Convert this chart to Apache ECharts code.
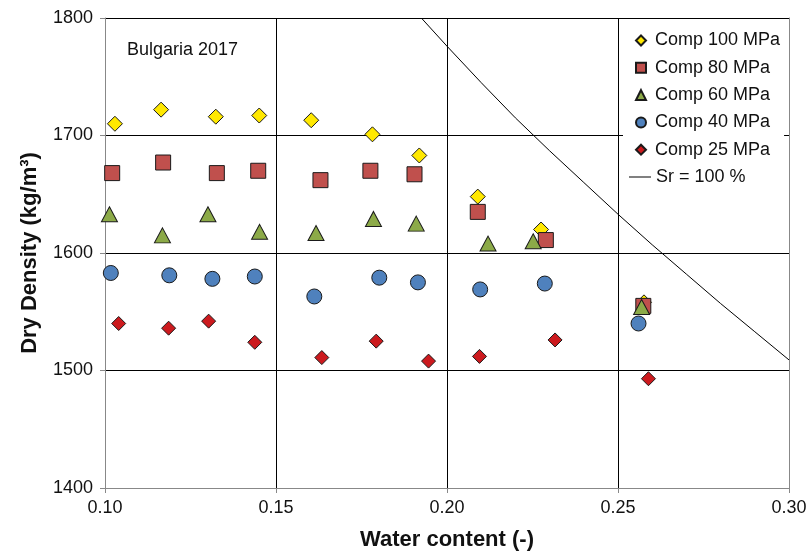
<!DOCTYPE html>
<html>
<head>
<meta charset="utf-8">
<script src="https://cdn.jsdelivr.net/npm/echarts@6/dist/echarts.min.js"></script>
<style>
  html, body { margin: 0; padding: 0; background: #fff; }
  #chart { width: 808px; height: 552px; }
</style>
</head>
<body>
<div id="chart"></div>
<script>
// Compaction tests, Bulgaria 2017: water content (-) vs dry density (kg/m3)
const comp100W = [0.1029, 0.1164, 0.1324, 0.1451, 0.1603, 0.1782, 0.1919, 0.2090, 0.2275, 0.2576];
const comp100D = [1710, 1722, 1716, 1717, 1713, 1701, 1683, 1648, 1620, 1558];

const comp80W = [0.1021, 0.1170, 0.1327, 0.1448, 0.1630, 0.1776, 0.1905, 0.2090, 0.2289, 0.2574];
const comp80D = [1668, 1677, 1668, 1670, 1662, 1670, 1667, 1635, 1611, 1555];

const comp60W = [0.1013, 0.1168, 0.1301, 0.1452, 0.1617, 0.1785, 0.1910, 0.2120, 0.2252, 0.2569];
const comp60D = [1633, 1615, 1633, 1618, 1617, 1629, 1625, 1608, 1610, 1554];

const comp40W = [0.1017, 0.1188, 0.1314, 0.1438, 0.1612, 0.1802, 0.1915, 0.2097, 0.2286, 0.2560];
const comp40D = [1583, 1581, 1578, 1580, 1563, 1579, 1575, 1569, 1574, 1540];

const comp25W = [0.1040, 0.1186, 0.1303, 0.1438, 0.1634, 0.1793, 0.1946, 0.2095, 0.2316, 0.2589];
const comp25D = [1540, 1536, 1542, 1524, 1511, 1525, 1508, 1512, 1526, 1493];

// Full saturation line (Sr = 100 %)
const satW = [0.1925, 0.200, 0.210, 0.220, 0.230, 0.240, 0.250, 0.260, 0.270, 0.280, 0.290, 0.300];
const satD = [1800, 1776, 1745, 1715, 1687, 1660, 1633, 1607, 1582, 1557, 1533, 1509];

const xTicks = [0.10, 0.15, 0.20, 0.25, 0.30];
const yTicks = [1400, 1500, 1600, 1700, 1800];

const FONT = '"Liberation Sans", Arial, sans-serif';
const TXT = '#111';
const zip = (xs, ys) => xs.map((x, i) => [x, ys[i]]);

const seriesDefs = [
  { name: 'Comp 100 MPa', w: comp100W, d: comp100D, symbol: 'diamond', size: 15, color: '#FFE800' },
  { name: 'Comp 80 MPa',  w: comp80W,  d: comp80D,  symbol: 'rect',    size: 15, color: '#C0504D' },
  { name: 'Comp 60 MPa',  w: comp60W,  d: comp60D,  symbol: 'triangle', size: [16, 15], color: '#8CAA48' },
  { name: 'Comp 40 MPa',  w: comp40W,  d: comp40D,  symbol: 'circle',  size: 15, color: '#4F81BD' },
  { name: 'Comp 25 MPa',  w: comp25W,  d: comp25D,  symbol: 'diamond', size: 14, color: '#CC1A1E' }
];

const chart = echarts.init(document.getElementById('chart'), null, { renderer: 'canvas' });

const series = seriesDefs.map(s => ({
  name: s.name,
  type: 'scatter',
  data: zip(s.w, s.d),
  symbol: s.symbol,
  symbolSize: s.size,
  itemStyle: { color: s.color, opacity: 1, borderColor: '#1a1a1a', borderWidth: 1 },
  emphasis: { disabled: true },
  z: 3
}));

series.push({
  name: 'Sr = 100 %',
  type: 'line',
  data: zip(satW, satD),
  showSymbol: false,
  symbol: 'none',
  lineStyle: { color: '#000', width: 1 },
  itemStyle: { color: '#000' },
  emphasis: { disabled: true },
  clip: true,
  z: 2
});

const legendText = { fontFamily: FONT, fontSize: 18, color: TXT, lineHeight: 18 };

chart.setOption({
  animation: false,
  backgroundColor: '#fff',
  textStyle: { fontFamily: FONT },
  grid: { left: 105, right: 19, top: 18, bottom: 64, containLabel: false, outerBoundsMode: 'none' },
  title: {
    text: 'Bulgaria 2017',
    left: 122, top: 36,
    textStyle: { fontFamily: FONT, fontSize: 18, fontWeight: 'normal', color: TXT }
  },
  legend: [
    {
      // marker series
      orient: 'vertical',
      left: 623, top: 23.5,
      padding: [8, 4, 4, 12],
      backgroundColor: '#fff',
      itemWidth: 10, itemHeight: 10,
      itemGap: 9.3,
      textStyle: Object.assign({ padding: [0, 0, 0, 4] }, legendText),
      data: [
        { name: 'Comp 100 MPa', icon: 'diamond' },
        { name: 'Comp 80 MPa', icon: 'rect' },
        { name: 'Comp 60 MPa', icon: 'triangle' },
        { name: 'Comp 40 MPa', icon: 'circle' },
        { name: 'Comp 25 MPa', icon: 'diamond' }
      ]
    },
    {
      // saturation line
      orient: 'vertical',
      left: 623, top: 163,
      padding: [5, 4, 14, 6],
      backgroundColor: '#fff',
      itemWidth: 22, itemHeight: 1,
      textStyle: legendText,
      data: [{ name: 'Sr = 100 %', icon: 'rect' }]
    }
  ],
  xAxis: {
    type: 'value',
    min: xTicks[0], max: xTicks[xTicks.length - 1], interval: 0.05,
    name: 'Water content (-)',
    nameLocation: 'middle', nameGap: 41,
    nameTextStyle: { fontFamily: FONT, fontSize: 22, fontWeight: 'bold', color: TXT },
    axisLine: { show: true, lineStyle: { color: '#888', width: 1 } },
    axisTick: { show: true, inside: false, length: 5, lineStyle: { color: '#888' } },
    axisLabel: { fontFamily: FONT, fontSize: 18, color: TXT, margin: 11, formatter: v => v.toFixed(2) },
    splitLine: { show: true, showMaxLine: false, lineStyle: { color: '#000', width: 1 } }
  },
  yAxis: [
    {
      type: 'value',
      min: yTicks[0], max: yTicks[yTicks.length - 1], interval: 100,
      name: 'Dry Density (kg/m³)',
      nameLocation: 'middle', nameGap: 64,
      nameTextStyle: { fontFamily: FONT, fontSize: 22, fontWeight: 'bold', color: TXT },
      axisLine: { show: true, lineStyle: { color: '#888', width: 1 } },
      axisTick: { show: true, inside: false, length: 5, lineStyle: { color: '#888' } },
      axisLabel: { fontFamily: FONT, fontSize: 18, color: TXT, margin: 12, formatter: v => String(v) },
      splitLine: { show: true, lineStyle: { color: '#000', width: 1 } }
    },
    {
      type: 'value', position: 'right',
      min: yTicks[0], max: yTicks[yTicks.length - 1], interval: 100,
      axisLine: { show: true, lineStyle: { color: '#888', width: 1 } },
      axisTick: { show: false }, axisLabel: { show: false }, splitLine: { show: false }
    }
  ],
  series: series
});
</script>
</body>
</html>
